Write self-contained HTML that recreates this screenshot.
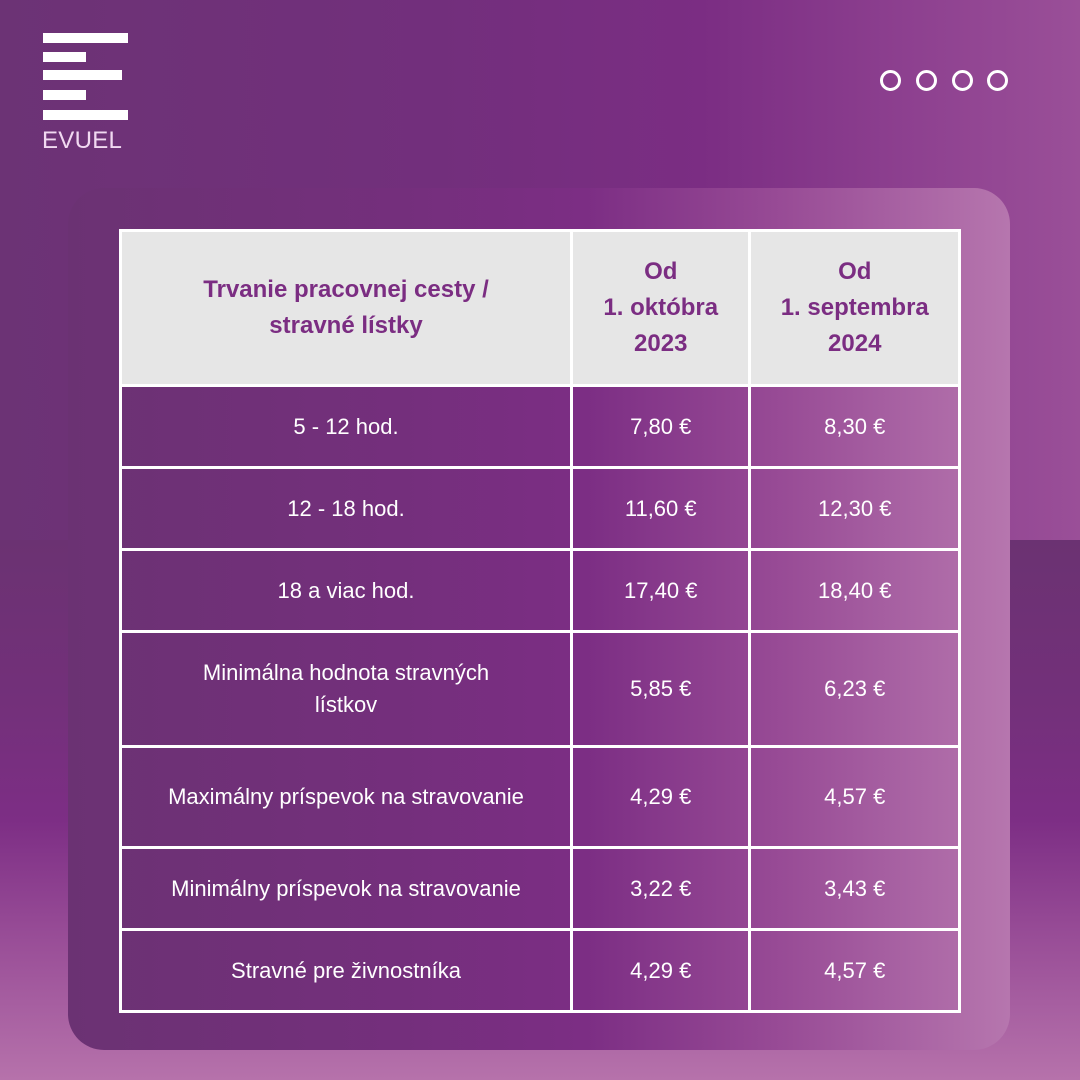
<!DOCTYPE html>
<html><head><meta charset="utf-8"><style>
*{margin:0;padding:0;box-sizing:border-box}
body{width:1080px;height:1080px;position:relative;overflow:hidden;font-family:"Liberation Sans",sans-serif;background:#6d3475}
.top{position:absolute;left:0;top:0;width:1080px;height:540px;background:linear-gradient(90deg,#6c3375 0%,#722f7c 40%,#7b2d83 65%,#8e4190 85%,#9a4f98 100%)}
.bot{position:absolute;left:0;top:540px;width:1080px;height:540px;background:linear-gradient(180deg,#6b3272 0%,#73307a 30%,#7d2e85 52%,#9a4f98 75%,#b672ab 100%)}
.bar{position:absolute;left:43px;height:10px;background:#fff}
.logo{position:absolute;left:42px;top:127px;font-size:24px;color:#f1d9f1;letter-spacing:0.3px;font-weight:300}
.dot{position:absolute;top:70px;width:21px;height:21px;border:3px solid #fff;border-radius:50%}
.card{position:absolute;left:68px;top:188px;width:942px;height:862px;border-radius:36px;background:linear-gradient(90deg,#6b3273 0%,#742f7c 35%,#7c2e84 55%,#974a95 75%,#b676ae 100%)}
table{position:absolute;left:119px;top:229px;width:842px;border-collapse:collapse}
td{border:3px solid #fff;color:#fff;text-align:center;font-size:22px;line-height:32px}
tr.h td{background:#e6e6e6;color:#7b2d82;font-weight:bold;height:155px;font-size:24px;line-height:36px}
</style></head><body>
<div class="top"></div><div class="bot"></div>
<div class="bar" style="top:33px;width:85px"></div>
<div class="bar" style="top:52px;width:43px"></div>
<div class="bar" style="top:70px;width:79px"></div>
<div class="bar" style="top:90px;width:43px"></div>
<div class="bar" style="top:110px;width:85px"></div>
<div class="logo">EVUEL</div>
<div class="dot" style="left:880px"></div>
<div class="dot" style="left:916px"></div>
<div class="dot" style="left:952px"></div>
<div class="dot" style="left:987px"></div>
<div class="card"></div>
<table>
<colgroup><col style="width:453px"><col style="width:179px"><col style="width:210px"></colgroup>
<tr class="h"><td>Trvanie pracovnej cesty /<br>stravné lístky</td><td>Od<br>1. októbra<br>2023</td><td>Od<br>1. septembra<br>2024</td></tr>
<tr style="height:82px"><td>5 - 12 hod.</td><td>7,80 €</td><td>8,30 €</td></tr>
<tr style="height:82px"><td>12 - 18 hod.</td><td>11,60 €</td><td>12,30 €</td></tr>
<tr style="height:82px"><td>18 a viac hod.</td><td>17,40 €</td><td>18,40 €</td></tr>
<tr style="height:115px"><td>Minimálna hodnota stravných<br>lístkov</td><td>5,85 €</td><td>6,23 €</td></tr>
<tr style="height:101px"><td>Maximálny príspevok na stravovanie</td><td>4,29 €</td><td>4,57 €</td></tr>
<tr style="height:82px"><td>Minimálny príspevok na stravovanie</td><td>3,22 €</td><td>3,43 €</td></tr>
<tr style="height:82px"><td>Stravné pre živnostníka</td><td>4,29 €</td><td>4,57 €</td></tr>
</table>
</body></html>
